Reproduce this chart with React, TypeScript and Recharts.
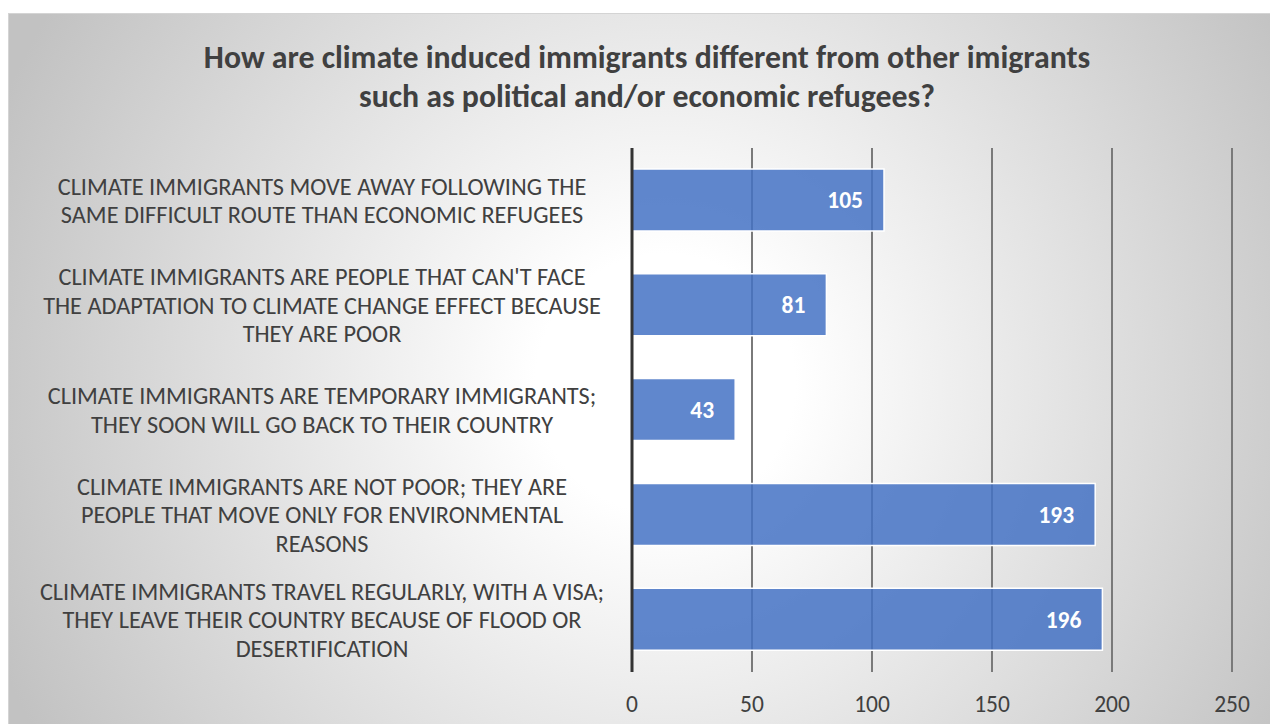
import React from "react";
import {
  BarChart,
  Bar,
  XAxis,
  YAxis,
  CartesianGrid,
  LabelList,
} from "recharts";

const title = [
  "How are climate induced immigrants different from other imigrants",
  "such as political and/or economic refugees?",
];

const categories = [
  ["CLIMATE IMMIGRANTS MOVE AWAY FOLLOWING THE", "SAME DIFFICULT ROUTE THAN ECONOMIC REFUGEES"],
  ["CLIMATE IMMIGRANTS ARE PEOPLE THAT CAN'T FACE", "THE ADAPTATION TO CLIMATE CHANGE EFFECT BECAUSE", "THEY ARE POOR"],
  ["CLIMATE IMMIGRANTS ARE TEMPORARY IMMIGRANTS;", "THEY SOON WILL GO BACK TO THEIR COUNTRY"],
  ["CLIMATE IMMIGRANTS ARE NOT POOR; THEY ARE", "PEOPLE THAT MOVE ONLY FOR ENVIRONMENTAL", "REASONS"],
  ["CLIMATE IMMIGRANTS TRAVEL REGULARLY, WITH A VISA;", "THEY LEAVE THEIR COUNTRY BECAUSE OF FLOOD OR", "DESERTIFICATION"],
];

const values = [105, 81, 43, 193, 196];

const xTicks = [0, 50, 100, 150, 200, 250];

const FONT = "Carlito, Calibri, 'Open Sans', sans-serif";

const data = categories.map((lines, i) => ({
  name: lines.join("\n"),
  value: values[i],
}));

function CategoryTick(props: any) {
  const { y, payload } = props;
  const lines: string[] = String(payload.value).split("\n");
  const lh = 28.5;
  const start = y - ((lines.length - 1) * lh) / 2;
  return (
    <text
      x={313}
      y={start}
      textAnchor="middle"
      fill="#404040"
      fontSize={24.3}
      fontFamily={FONT}
    >
      {lines.map((l, i) => (
        <tspan key={i} x={313} y={start + i * lh} dy="0.35em">
          {l}
        </tspan>
      ))}
    </text>
  );
}

export default function App() {
  return (
    <>
      <style>{`body{margin:0;overflow:hidden;}`}</style>
      <div
        style={{
          position: "absolute",
          left: 8,
          top: 13,
          width: 1262,
          height: 711,
          borderTop: "1px solid #d4d4d4",
          borderLeft: "1px solid #d4d4d4",
          background:
            "radial-gradient(circle 720px at 52% 52%, #ffffff 0%, #ffffff 18%, #c2c2c2 100%)",
          fontFamily: FONT,
        }}
      >
        <div
          style={{
            position: "absolute",
            left: 0,
            width: 1276,
            top: 24,
            textAlign: "center",
            fontSize: 31.8,
            fontWeight: "bold",
            color: "#404040",
            lineHeight: "39px",
          }}
        >
          {title.map((t, i) => (
            <div key={i}>{t}</div>
          ))}
        </div>
        <BarChart
          width={1262}
          height={710}
          data={data}
          layout="vertical"
          margin={{ top: 134, right: 39, bottom: 0, left: 0 }}
          style={{ position: "absolute", left: 0, top: 0 }}
        >
          <CartesianGrid
            horizontal={false}
            vertical={true}
            stroke="#7a7a7a"
            strokeWidth={2}
          />
          <XAxis
            type="number"
            domain={[0, 250]}
            ticks={xTicks}
            axisLine={false}
            tickLine={false}
            tickSize={0}
            tickMargin={23}
            height={52}
            tick={{ fill: "#404040", fontSize: 23.5, fontFamily: FONT }}
          />
          <YAxis
            type="category"
            dataKey="name"
            width={623}
            axisLine={{ stroke: "#333333", strokeWidth: 3 }}
            tickLine={false}
            tick={<CategoryTick />}
            interval={0}
          />
          <Bar
            dataKey="value"
            fill="#4472C4"
            fillOpacity={0.85}
            stroke="#ffffff"
            strokeWidth={1.5}
            barSize={62}
            isAnimationActive={false}
          >
            <LabelList
              dataKey="value"
              position="insideRight"
              offset={21}
              fill="#ffffff"
              fontSize={23.5}
              fontWeight="bold"
              fontFamily={FONT}
            />
          </Bar>
        </BarChart>
      </div>
    </>
  );
}
